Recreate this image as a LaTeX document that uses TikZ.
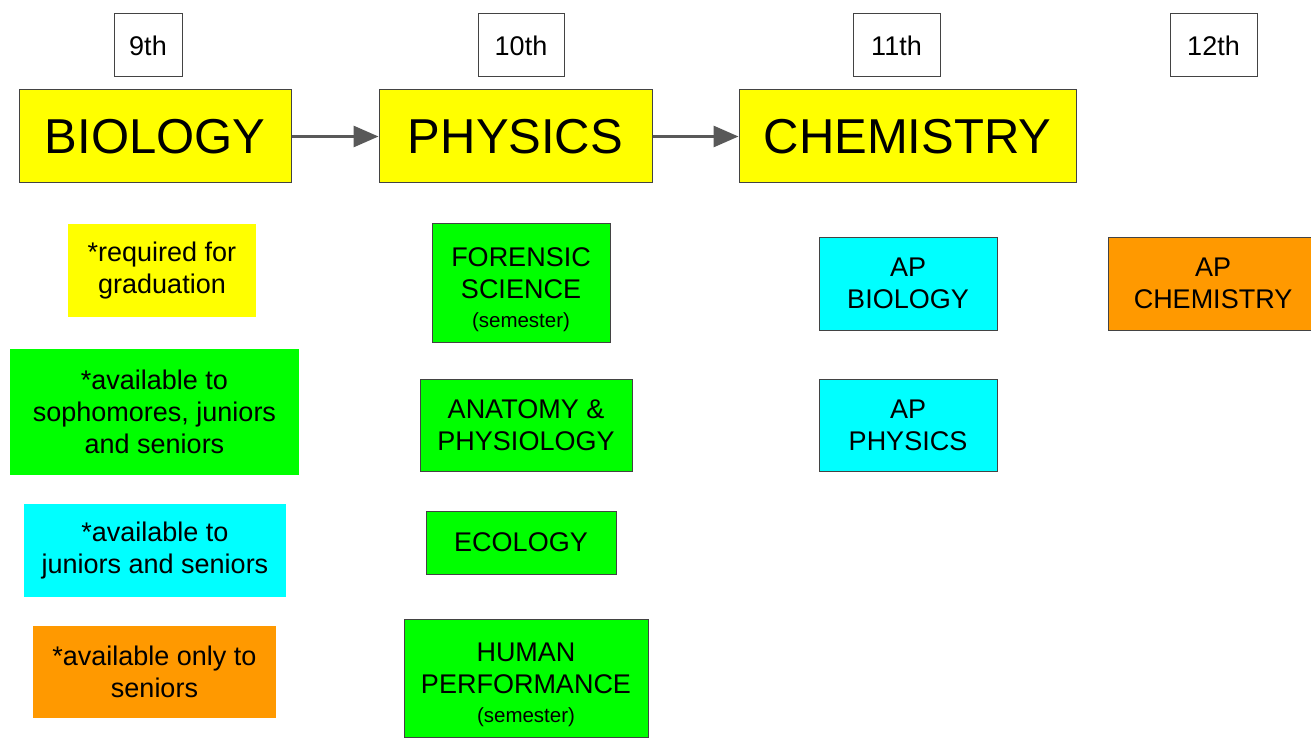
\documentclass[tikz,border=0pt]{standalone}
\usepackage{fontspec}
\setmainfont{Liberation Sans}
\usetikzlibrary{arrows.meta}
\definecolor{cyel}{HTML}{FFFF00}
\definecolor{cgrn}{HTML}{00FF00}
\definecolor{ccyn}{HTML}{00FFFF}
\definecolor{corg}{HTML}{FF9900}
\definecolor{cbrd}{HTML}{434343}
\definecolor{carr}{HTML}{595959}
\tikzset{
  box/.style={draw=cbrd, line width=1pt, rectangle, inner sep=0pt, align=center, font=\fontsize{27}{32}\selectfont},
  legend/.style={rectangle, inner sep=0pt, align=center, font=\fontsize{27}{32}\selectfont},
  grade/.style={box, fill=white, font=\fontsize{27}{30}\selectfont},
  title/.style={box, fill=cyel, font=\fontsize{49}{54}\selectfont},
  conn/.style={draw=carr, line width=3pt, -{Triangle[length=25pt,width=21pt]}}
}
\newcommand{\semtxt}[1]{{\fontsize{20.5}{22}\selectfont #1}}
\begin{document}
\begin{tikzpicture}[x=1pt,y=-1pt]
\useasboundingbox (0,0) rectangle (1311,738);
% grade labels
\node[grade, minimum width=68pt, minimum height=63pt] (g9) at (148,45.5) {9th};
\node[grade, minimum width=86pt, minimum height=63pt] (g10) at (521,45.5) {10th};
\node[grade, minimum width=87pt, minimum height=63pt] (g11) at (896.5,45.5) {11th};
\node[grade, minimum width=87pt, minimum height=63pt] (g12) at (1213.5,45.5) {12th};
% titles
\node[title, minimum width=272pt, minimum height=93pt] (bio) at (155,136.5) {BIOLOGY};
\node[title, minimum width=273pt, minimum height=93pt] (phy) at (515.5,136.5) {PHYSICS};
\node[title, minimum width=337pt, minimum height=93pt] (chem) at (907.5,136.5) {CHEMISTRY};
\draw[conn] (bio.east) -- (phy.west);
\draw[conn] (phy.east) -- (chem.west);
% legend
\node[legend, fill=cyel, minimum width=188pt, minimum height=93pt] (l1) at (162,270.5) {*required for\\graduation};
\node[legend, fill=cgrn, minimum width=289pt, minimum height=126pt] (l2) at (154.5,412) {*available to\\sophomores, juniors\\and seniors};
\node[legend, fill=ccyn, minimum width=262pt, minimum height=93pt] (l3) at (155,550.5) {*available to\\juniors and seniors};
\node[legend, fill=corg, minimum width=243pt, minimum height=92pt] (l4) at (154.5,672) {*available only to\\seniors};
% 10th column
\node[box, fill=cgrn, minimum width=178pt, minimum height=119pt] (for) at (521,282.5) {\rule{0pt}{33pt}FORENSIC\\SCIENCE\\[-3pt]\semtxt{(semester)}};
\node[box, fill=cgrn, minimum width=212pt, minimum height=92pt] (ana) at (526,425) {ANATOMY \&\\PHYSIOLOGY};
\node[box, fill=cgrn, minimum width=190pt, minimum height=63pt] (eco) at (521,542.5) {ECOLOGY};
\node[box, fill=cgrn, minimum width=244pt, minimum height=118pt] (hum) at (526,678) {\rule{0pt}{33pt}HUMAN\\PERFORMANCE\\[-3pt]\semtxt{(semester)}};
% 11th column
\node[box, fill=ccyn, minimum width=178pt, minimum height=93pt] (apb) at (908,283.5) {AP\\BIOLOGY};
\node[box, fill=ccyn, minimum width=178pt, minimum height=92pt] (app) at (908,425) {AP\\PHYSICS};
% 12th column
\node[box, fill=corg, minimum width=210pt, minimum height=93pt] (apc) at (1213,283.5) {AP\\CHEMISTRY};
\end{tikzpicture}
\end{document}
